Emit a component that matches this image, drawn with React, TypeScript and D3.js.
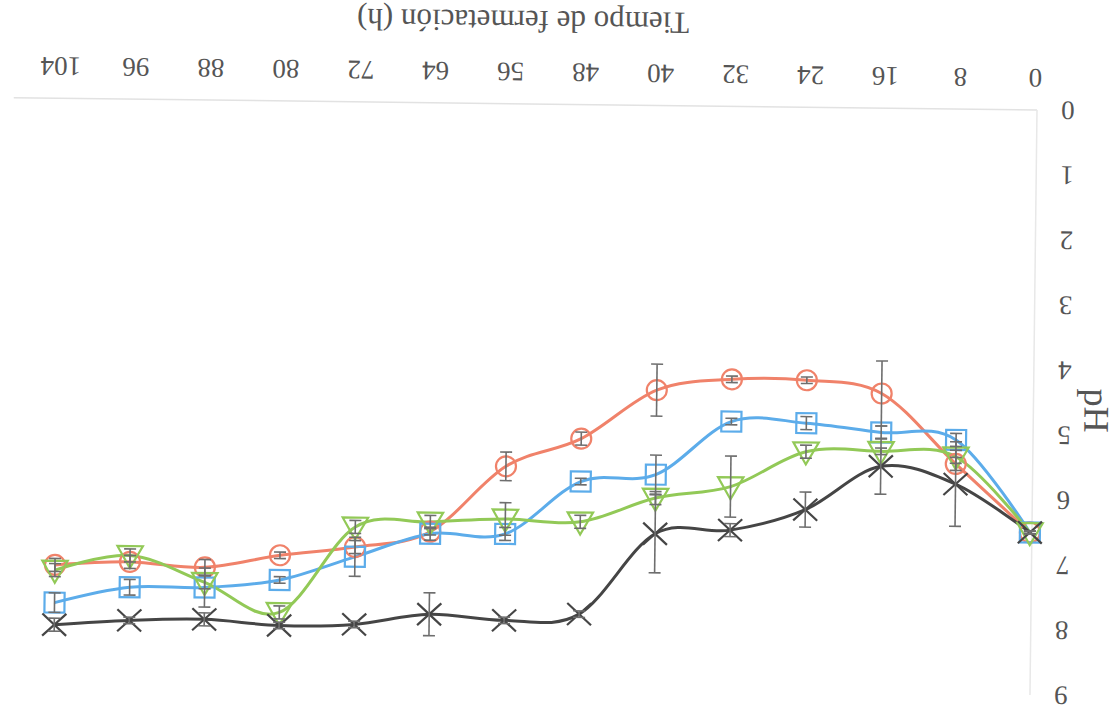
import React from "react";
import * as d3 from "d3";

// Fermentation time (h)
const hours = [0, 8, 16, 24, 32, 40, 48, 56, 64, 72, 80, 88, 96, 104];
const xTicks = [0, 8, 16, 24, 32, 40, 48, 56, 64, 72, 80, 88, 96, 104];
const yTicks = [0, 1, 2, 3, 4, 5, 6, 7, 8, 9];

// pH series
const seriesOrange = [6.5, 5.46, 4.39, 4.2, 4.2, 4.38, 5.14, 5.58, 6.6, 6.85, 6.99, 7.19, 7.12, 7.18];
const seriesBlue = [6.5, 5.09, 4.99, 4.86, 4.85, 5.68, 5.8, 6.62, 6.63, 7.0, 7.37, 7.5, 7.51, 7.76];
const seriesGreen = [6.5, 5.35, 5.28, 5.3, 5.85, 6.04, 6.42, 6.39, 6.45, 6.54, 7.87, 7.42, 7.02, 7.26];
const seriesBlack = [6.5, 5.77, 5.51, 6.19, 6.52, 6.59, 7.84, 7.95, 7.87, 8.04, 8.07, 7.99, 8.02, 8.1];

// error bar half-widths
const errOrange = [0.02, 0.1, 0.5, 0.05, 0.05, 0.4, 0.1, 0.22, 0.05, 0.1, 0.05, 0.12, 0.1, 0.1];
const errBlue = [0.02, 0.1, 0.1, 0.1, 0.05, 0.3, 0.05, 0.1, 0.1, 0.3, 0.05, 0.3, 0.12, 0.15];
const errGreen = [0.02, 0.1, 0.05, 0.1, 0.47, 0.1, 0.1, 0.25, 0.1, 0.1, 0.1, 0.1, 0.1, 0.1];
const errBlack = [0.02, 0.65, 0.43, 0.27, 0.1, 0.6, 0.05, 0.05, 0.33, 0.05, 0.05, 0.1, 0.05, 0.1];

const xTitle = "Tiempo de fermetación (h)";
const yTitle = "pH";

const W = 1119;
const H = 711;

export default function App() {
  const x = d3.scaleLinear().domain([0, 109]).range([84, 84 + 109 * 9.37]);
  const y = d3.scaleLinear().domain([0, 9]).range([601, 16]);

  const line = d3
    .line<number>()
    .x((_, i) => x(hours[i]))
    .y((d) => y(d))
    .curve(d3.curveCardinal.tension(0));

  const series = [
    { vals: seriesOrange, err: errOrange, color: "#f0826a", shape: "circle" },
    { vals: seriesBlue, err: errBlue, color: "#5cacea", shape: "square" },
    { vals: seriesGreen, err: errGreen, color: "#92c957", shape: "triangle" },
    { vals: seriesBlack, err: errBlack, color: "#454545", shape: "x" },
  ];

  const sym = {
    circle: d3.symbol().type(d3.symbolCircle).size(Math.PI * 100)(),
    square: d3.symbol().type(d3.symbolSquare).size(400)(),
    triangle: d3.symbol().type(d3.symbolTriangle).size(280)(),
  } as Record<string, string | null>;

  const font = "'Liberation Serif', 'Times New Roman', serif";
  const gray = "#6e6e6e";

  return (
    <svg
      width={W}
      height={H}
      style={{ position: "absolute", left: 0, top: 0, background: "#fff" }}
    >
      <rect x={0} y={0} width={W} height={H} fill="#ffffff" />
      <g transform="rotate(0.69 1037 110)">
        <g transform={`rotate(180 ${W / 2} ${H / 2})`}>
          {/* axes lines */}
          <line x1={82} x2={x(109)} y1={y(0)} y2={y(0)} stroke="#e2e2e2" strokeWidth={1.5} />
          <line x1={82} x2={82} y1={y(0)} y2={y(9)} stroke="#e8e8e8" strokeWidth={1.5} />

          {/* tick labels */}
          {xTicks.map((t) => (
            <text
              key={"xt" + t}
              x={x(t)}
              y={y(0) + 41}
              fontFamily={font}
              fontSize={27}
              fill="#555"
              textAnchor="middle"
            >
              {t}
            </text>
          ))}
          {yTicks.map((t) => (
            <text
              key={"yt" + t}
              x={51}
              y={y(t) + 9}
              fontFamily={font}
              fontSize={27}
              fill="#555"
              textAnchor="middle"
            >
              {t}
            </text>
          ))}

          {/* titles */}
          <text x={597} y={694} fontFamily={font} fontSize={31} fill="#555" textAnchor="middle">
            {xTitle}
          </text>
          <text
            transform={`translate(31 ${301}) rotate(-90)`}
            fontFamily={font}
            fontSize={36}
            fill="#555"
            textAnchor="middle"
          >
            {yTitle}
          </text>

          {/* lines */}
          {series.map((s, si) => (
            <path key={"l" + si} d={line(s.vals) || ""} fill="none" stroke={s.color} strokeWidth={3} />
          ))}

          {/* markers */}
          {series.map((s, si) =>
            s.vals.map((v, i) => {
              const cx = x(hours[i]);
              const cy = y(v);
              if (s.shape === "x") {
                return (
                  <g key={"m" + si + "-" + i} stroke={s.color} strokeWidth={2.2}>
                    <line x1={cx - 12} x2={cx + 12} y1={cy - 11} y2={cy + 11} />
                    <line x1={cx - 12} x2={cx + 12} y1={cy + 11} y2={cy - 11} />
                  </g>
                );
              }
              return (
                <path
                  key={"m" + si + "-" + i}
                  d={sym[s.shape] || ""}
                  transform={`translate(${cx},${cy + (s.shape === "triangle" ? 2 : 0)})`}
                  fill="none"
                  stroke={s.color}
                  strokeWidth={2.2}
                />
              );
            })
          )}

          {/* error bars */}
          {series.map((s, si) =>
            s.vals.map((v, i) => {
              const cx = x(hours[i]);
              const e = s.err[i];
              const y1 = y(v - e);
              const y2 = y(v + e);
              return (
                <g key={"e" + si + "-" + i} stroke={gray} strokeWidth={1.6}>
                  <line x1={cx} x2={cx} y1={y1} y2={y2} />
                  <line x1={cx - 6} x2={cx + 6} y1={y1} y2={y1} />
                  <line x1={cx - 6} x2={cx + 6} y1={y2} y2={y2} />
                </g>
              );
            })
          )}
        </g>
      </g>
    </svg>
  );
}
